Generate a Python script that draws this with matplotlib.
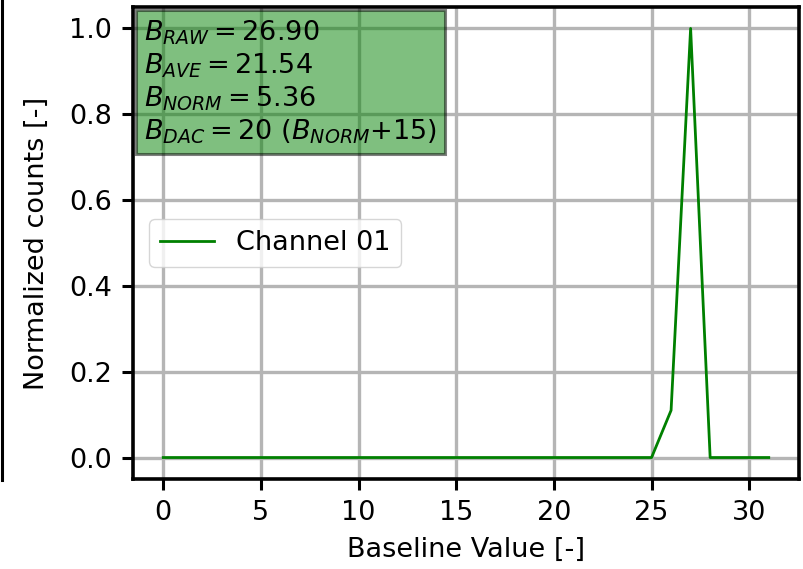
import matplotlib
matplotlib.use("Agg")
import matplotlib.pyplot as plt
from matplotlib.lines import Line2D

# Baseline histogram for one channel
baseline_values = list(range(0, 32))
normalized_counts = [0.0] * 25 + [0.0, 0.11, 1.0, 0.0, 0.0, 0.0, 0.0]
channel_label = "Channel 01"

b_raw = 26.90
b_ave = 21.54
b_norm = 5.36
b_dac = 20
dac_offset = 15

FS = 19.5

fig = plt.figure(figsize=(8.04, 5.69), dpi=100)
ax = fig.add_axes([0.1654, 0.1582, 0.9938 - 0.1654, 0.9877 - 0.1582])

ax.plot(baseline_values, normalized_counts, color="green", lw=2.0, label=channel_label)

ax.grid(True, color="#b5b5b5", lw=2.4)
ax.set_axisbelow(True)
ax.set_xticks([0, 5, 10, 15, 20, 25, 30])
ax.set_yticks([0.0, 0.2, 0.4, 0.6, 0.8, 1.0])

for sp in ax.spines.values():
    sp.set_linewidth(2.6)
ax.tick_params(labelsize=FS, length=8, width=2.2, pad=7)

ax.set_xlabel("Baseline Value [-]", fontsize=FS, labelpad=8)
ax.set_ylabel("Normalized counts [-]", fontsize=FS, labelpad=14)

info = (
    r"$B_{RAW} = %.2f$" % b_raw + "\n"
    + r"$B_{AVE} = %.2f$" % b_ave + "\n"
    + r"$B_{NORM} = %.2f$" % b_norm + "\n"
    + r"$B_{DAC} = %d$ ($B_{NORM}$+%d)" % (b_dac, dac_offset)
)
ax.text(0.016, 0.976, info, transform=ax.transAxes, fontsize=FS, va="top", ha="left",
        linespacing=1.2,
        bbox=dict(boxstyle="square,pad=0.3", facecolor="green", alpha=0.5, lw=2.2))

ax.legend(loc="center left", fontsize=FS, borderaxespad=0.6)

# Right edge of the neighbouring panel
fig.add_artist(Line2D([0.003, 0.003], [1.0, 1 - 480 / 569], transform=fig.transFigure,
                      color="black", lw=2.2))

fig.savefig("out.png", dpi=100)
